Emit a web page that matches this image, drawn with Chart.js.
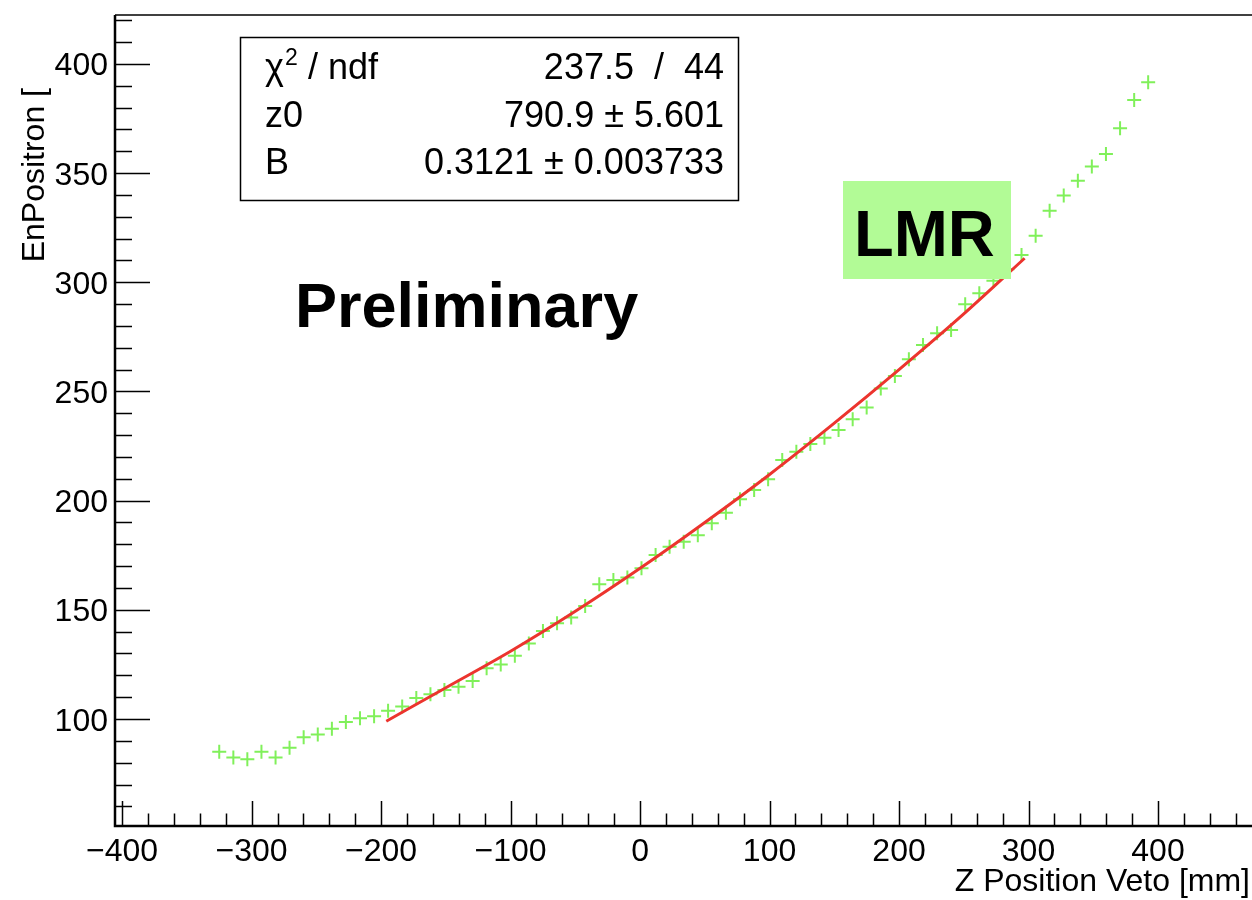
<!DOCTYPE html>
<html>
<head>
<meta charset="utf-8">
<script src="https://cdn.jsdelivr.net/npm/chart.js@4"></script>
<style>
  html, body { margin: 0; padding: 0; background: #fff; overflow: hidden; }
  canvas { display: block; }
</style>
</head>
<body>
<canvas id="veto-chart" width="1270" height="900"></canvas>
<script>
// bin centres along the veto (mm) and mean positron energy in each bin
const zPos = [
  -325.0, -314.1, -303.3, -292.4, -281.5, -270.7, -259.8, -248.9, -238.0, -227.2,
  -216.3, -205.4, -194.6, -183.7, -172.8, -161.9, -151.1, -140.2, -129.3, -118.5,
  -107.6, -96.7, -85.9, -75.0, -64.1, -53.2, -42.4, -31.5, -20.6, -9.8,
  1.1, 12.0, 22.8, 33.7, 44.6, 55.4, 66.3, 77.2, 88.1, 98.9,
  109.8, 120.7, 131.5, 142.4, 153.3, 164.2, 175.0, 185.9, 196.8, 207.6,
  218.5, 229.4, 240.2, 251.1, 262.0, 272.9, 283.7, 294.6, 305.5, 316.3,
  327.2, 338.1, 348.9, 359.8, 370.7, 381.6, 392.4
];
const enPositron = [
  85.0, 82.4, 81.6, 85.0, 82.4, 86.8, 91.6, 92.9, 95.5, 98.6,
  100.3, 101.3, 103.8, 105.7, 109.6, 111.3, 113.3, 114.8, 117.4, 123.2,
  125.0, 129.0, 134.6, 140.3, 143.8, 146.5, 151.7, 161.7, 163.6, 164.8,
  169.0, 175.1, 178.9, 181.2, 184.2, 189.6, 194.5, 200.6, 204.9, 209.8,
  218.6, 222.4, 225.9, 228.8, 232.3, 237.3, 242.7, 251.4, 257.1, 264.7,
  271.3, 276.6, 278.1, 289.9, 295.0, 300.7, 306.0, 312.5, 321.3, 332.8,
  339.7, 346.5, 353.0, 358.8, 370.5, 383.5, 391.6
];

// fitted curve over the fit range
const fitZ = [-196, -150, -100, -50, 0, 50, 100, 150, 200, 250, 297];
const fitE = [99, 114.3, 131, 149.3, 169, 190, 212, 235.5, 260, 285.5, 311];

const xTicks = [-400, -300, -200, -100, 0, 100, 200, 300, 400];
const yTicks = [100, 150, 200, 250, 300, 350, 400];

const statNames = ['χ', 'z0', 'B'];
const statValues = ['237.5  /  44', '790.9 ± 5.601', '0.3121 ± 0.003733'];

const FONT = '"Liberation Sans", Arial, Helvetica, sans-serif';

function fmt(v) {
  return v < 0 ? '\u2212' + Math.abs(v) : String(v);
}

// ROOT-style frame: inward ticks, labels, titles, stats box and the overlay labels
const rootFrame = {
  id: 'rootFrame',
  afterDatasetsDraw(chart) {
    const { ctx, chartArea: a, scales: { x, y } } = chart;
    ctx.save();
    ctx.strokeStyle = '#000';
    ctx.fillStyle = '#000';

    ctx.lineWidth = 1.5;
    ctx.beginPath();
    ctx.moveTo(a.left, a.top);
    ctx.lineTo(a.right, a.top);
    ctx.stroke();
    ctx.lineWidth = 2.5;
    ctx.beginPath();
    ctx.moveTo(a.left, a.top);
    ctx.lineTo(a.left, a.bottom);
    ctx.lineTo(a.right, a.bottom);
    ctx.stroke();

    ctx.lineWidth = 1.5;
    ctx.beginPath();
    for (let v = -400; v <= x.max; v += 20) {
      const px = Math.round(x.getPixelForValue(v)) + 0.5;
      const len = v % 100 === 0 ? 25 : 12.5;
      ctx.moveTo(px, a.bottom);
      ctx.lineTo(px, a.bottom - len);
    }
    for (let v = 60; v <= y.max; v += 10) {
      const py = Math.round(y.getPixelForValue(v)) + 0.5;
      const len = v % 50 === 0 ? 35 : 17;
      ctx.moveTo(a.left, py);
      ctx.lineTo(a.left + len, py);
    }
    ctx.stroke();

    ctx.font = '32px ' + FONT;
    ctx.textAlign = 'center';
    ctx.textBaseline = 'alphabetic';
    xTicks.forEach(v => ctx.fillText(fmt(v), x.getPixelForValue(v), 861));
    ctx.textAlign = 'right';
    yTicks.forEach(v => ctx.fillText(fmt(v), a.left - 7, y.getPixelForValue(v) + 11.5));

    // axis titles
    ctx.textAlign = 'right';
    ctx.fillText('Z Position Veto [mm]', 1250, 891);
    ctx.save();
    ctx.translate(44, 88);
    ctx.rotate(-Math.PI / 2);
    ctx.fillText('EnPositron [', 0, 0);
    ctx.restore();

    // fit statistics box
    ctx.fillStyle = '#fff';
    ctx.fillRect(240, 37, 498, 163);
    ctx.lineWidth = 1.5;
    ctx.strokeRect(240.5, 37.5, 498, 163);
    ctx.fillStyle = '#000';
    const rowBase = [79, 127, 174];
    ctx.font = '36px ' + FONT;
    statNames.forEach((name, i) => {
      ctx.textAlign = 'left';
      if (i === 0) {
        ctx.fillText('χ', 265, rowBase[i]);
        const w = ctx.measureText('χ').width;
        ctx.font = '23px ' + FONT;
        ctx.fillText('2', 265 + w + 1, rowBase[i] - 14);
        ctx.font = '36px ' + FONT;
        ctx.fillText(' / ndf', 265 + w + 14, rowBase[i]);
      } else {
        ctx.fillText(name, 265, rowBase[i]);
      }
      ctx.textAlign = 'right';
      ctx.fillText(statValues[i], 724, rowBase[i]);
    });

    ctx.font = 'bold 63px ' + FONT;
    ctx.textAlign = 'left';
    ctx.fillText('Preliminary', 295, 327);

    ctx.fillStyle = 'rgb(178, 251, 150)';
    ctx.fillRect(843, 181, 168, 98);
    ctx.fillStyle = '#000';
    ctx.font = 'bold 65px ' + FONT;
    ctx.fillText('LMR', 854, 256);
    ctx.restore();
  }
};

const ctx = document.getElementById('veto-chart').getContext('2d');
new Chart(ctx, {
  type: 'scatter',
  data: {
    datasets: [{
      label: 'fit',
      data: fitZ.map((z, i) => ({ x: z, y: fitE[i] })),
      showLine: true,
      borderColor: 'rgb(236, 52, 46)',
      borderWidth: 3,
      pointRadius: 0,
      cubicInterpolationMode: 'monotone',
      order: 0
    }, {
      label: 'EnPositron',
      data: zPos.map((z, i) => ({ x: z, y: enPositron[i] })),
      showLine: false,
      pointStyle: 'cross',
      pointRadius: 7,
      borderWidth: 2,
      borderColor: 'rgb(128, 240, 90)',
      order: 1
    }]
  },
  options: {
    responsive: false,
    animation: false,
    layout: { padding: { left: 115, top: 15, right: 11, bottom: 74 } },
    plugins: { legend: { display: false }, tooltip: { enabled: false } },
    scales: {
      x: { type: 'linear', min: -405.5, max: 478, display: false },
      y: { type: 'linear', min: 51, max: 422.4, display: false }
    }
  },
  plugins: [rootFrame]
});
</script>
</body>
</html>
